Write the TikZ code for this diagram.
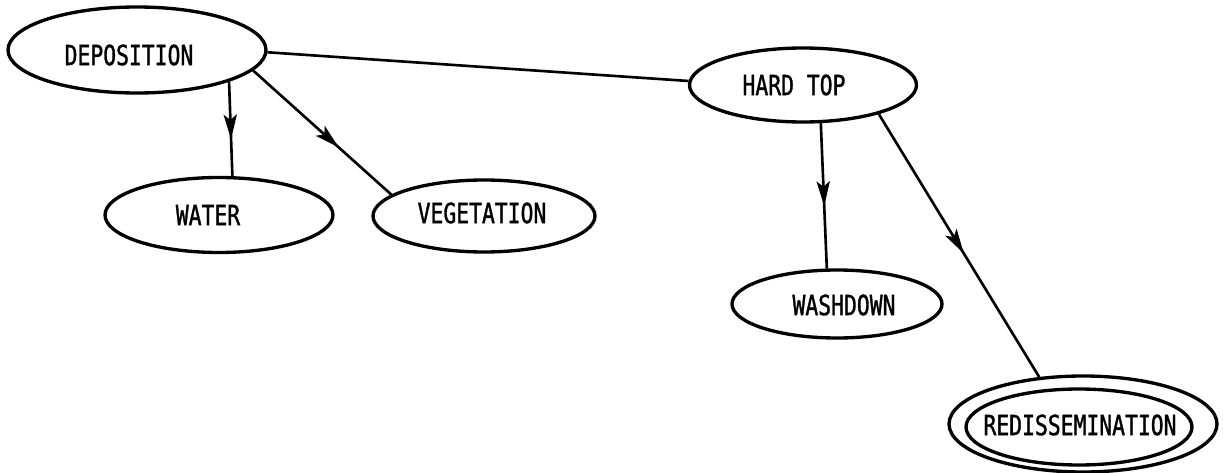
\documentclass[tikz,border=0pt]{standalone}
\usepackage{fontspec}
\setmainfont[FakeStretch=0.77,FakeBold=1.2]{DejaVu Sans Mono}
\usetikzlibrary{shapes.geometric,decorations.markings,arrows.meta}
\begin{document}
\begin{tikzpicture}[x=0.02cm,y=-0.02cm,
  ell/.style 2 args={draw, ellipse, line width=1.9pt, inner sep=0pt,
    minimum width={#1*0.02cm}, minimum height={#2*0.02cm}},
  lbl/.style={inner sep=0pt, font=\fontsize{15.8}{18}\selectfont},
  edge/.style={line width=1.5pt},
  midarrow/.style={edge, postaction={decorate},
    decoration={markings, mark=at position #1 with {\arrow{Stealth[length=14pt,width=7.5pt,inset=3pt]}}}}]
\useasboundingbox (0,0) rectangle (1225,473);
\node[ell={258}{86}] (dep) at (137,50) {};
\node[ell={228}{75}] (water) at (219,215) {};
\node[ell={222}{72}] (veg) at (484,216) {};
\node[ell={227}{74}] (hard) at (803,85) {};
\node[ell={210}{68}] (wash) at (837,304) {};
\node[ell={268}{96}] (redisO) at (1083,424) {};
\node[ell={226}{76}] (redis) at (1079,427) {};
\node[lbl] (depT) at (129,55) {DEPOSITION};
\node[lbl] (waterT) at (208,215) {WATER};
\node[lbl] (vegT) at (482,213) {VEGETATION};
\node[lbl] (hardT) at (794,85) {HARD TOP};
\node[lbl] (washT) at (844,305) {WASHDOWN};
\node[lbl] (redisT) at (1080,425) {REDISSEMINATION};
\draw[midarrow=0.61] (dep.-19) -- (water.71);
\draw[midarrow=0.62] (dep.-10) -- (veg.167);
\draw[edge] (dep.-1) -- (hard.178);
\draw[midarrow=0.57] (hard.-65) -- (wash.106);
\draw[midarrow=0.53] (hard.-21) -- (redisO.133);
\end{tikzpicture}
\end{document}
